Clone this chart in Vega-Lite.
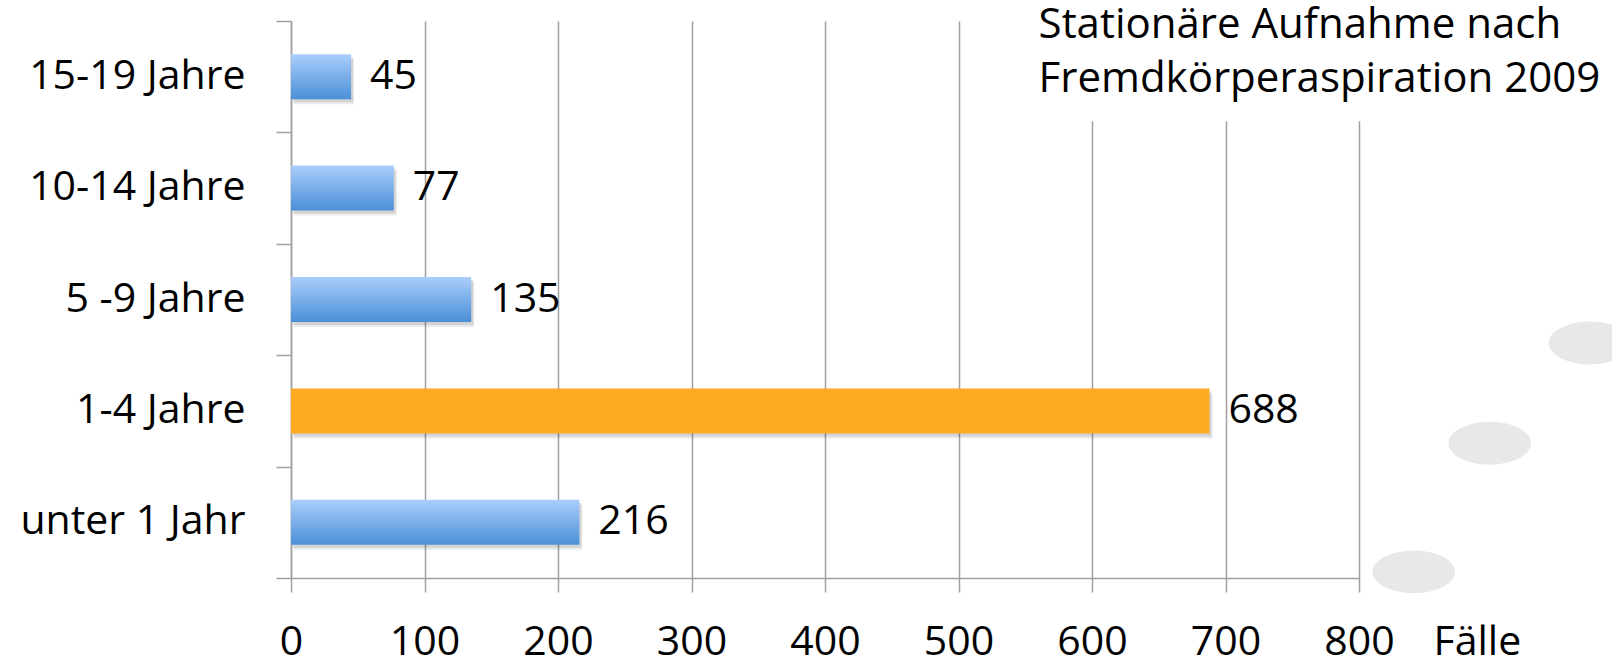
{
  "$schema": "https://vega.github.io/schema/vega-lite/v6.json",
  "width": 1068,
  "height": 557,
  "autosize": {"type": "none"},
  "padding": {"left": 291, "top": 21, "right": 253, "bottom": 83},
  "background": "#ffffff",
  "config": {
    "view": {"stroke": null},
    "font": "Open Sans",
    "text": {"font": "Open Sans"}
  },
  "datasets": {
    "balken": [
      {"Alter": "15-19 Jahre", "Faelle": 45, "Gruppe": "andere"},
      {"Alter": "10-14 Jahre", "Faelle": 77, "Gruppe": "andere"},
      {"Alter": "5 -9 Jahre", "Faelle": 135, "Gruppe": "andere"},
      {"Alter": "1-4 Jahre", "Faelle": 688, "Gruppe": "hervorgehoben"},
      {"Alter": "unter 1 Jahr", "Faelle": 216, "Gruppe": "andere"}
    ],
    "maske": [{"x0": 540, "x1": 820, "v0": 0.82, "v1": 1.01}],
    "titel": [{"x": 560, "v": 0.9695, "t": "Stationäre Aufnahme nach\nFremdkörperaspiration 2009"}],
    "punkte": [{"x": 973, "v": 0.422}, {"x": 898, "v": 0.242}, {"x": 841, "v": 0.011}]
  },
  "resolve": {"scale": {"y": "independent"}, "axis": {"y": "independent"}},
  "layer": [
    {
      "data": {"name": "balken"},
      "encoding": {
        "y": {
          "field": "Alter", "type": "nominal", "sort": null,
          "scale": {"paddingInner": 0, "paddingOuter": 0},
          "axis": {
            "title": null, "ticks": false, "tickSize": 0, "grid": false,
            "domainColor": "#a0a0a0", "domainWidth": 1.5,
            "labelFont": "Open Sans", "labelFontSize": 41, "labelColor": "#000000",
            "labelPadding": 46, "labelAlign": "right", "labelBaseline": "middle", "labelLimit": 0
          }
        },
        "x": {
          "field": "Faelle", "type": "quantitative",
          "scale": {"domain": [0, 800], "nice": false, "zero": true},
          "axis": {
            "values": [0, 100, 200, 300, 400, 500, 600, 700, 800],
            "grid": true, "gridColor": "#a0a0a0", "gridWidth": 1.5,
            "domainColor": "#a0a0a0", "domainWidth": 1.5,
            "tickColor": "#a0a0a0", "tickWidth": 1.5, "tickSize": 14,
            "labelFont": "Open Sans", "labelFontSize": 41, "labelColor": "#000000",
            "labelBaseline": "alphabetic", "labelPadding": 62, "labelFlush": false,
            "title": "Fälle", "titleFont": "Open Sans", "titleFontSize": 41,
            "titleFontWeight": "normal", "titleColor": "#000000",
            "titleX": 1142, "titleY": 76, "titleAlign": "left", "titleBaseline": "alphabetic"
          }
        }
      },
      "layer": [
        {"mark": {"type": "bar", "height": {"band": 0.404}, "fill": "#000000", "opacity": 0.08, "yOffset": 5, "xOffset": 3}},
        {"mark": {"type": "bar", "height": {"band": 0.404}, "fill": "#000000", "opacity": 0.1, "yOffset": 3, "xOffset": 2}},
        {
          "transform": [{"filter": "datum.Gruppe === 'andere'"}],
          "mark": {
            "type": "bar", "height": {"band": 0.404},
            "color": {
              "gradient": "linear", "x1": 0, "y1": 0, "x2": 0, "y2": 1,
              "stops": [{"offset": 0, "color": "#aacefb"}, {"offset": 1, "color": "#4a8fd7"}]
            }
          }
        },
        {
          "transform": [{"filter": "datum.Gruppe === 'hervorgehoben'"}],
          "mark": {"type": "bar", "height": {"band": 0.404}, "color": "#fbaa21"}
        },
        {
          "mark": {"type": "text", "align": "left", "baseline": "middle", "dx": 19, "fontSize": 41, "font": "Open Sans", "color": "#000000"},
          "encoding": {"text": {"field": "Faelle", "type": "quantitative"}}
        }
      ]
    },
    {
      "layer": [
        {
          "data": {"name": "maske"},
          "mark": {"type": "rect", "fill": "#ffffff"},
          "encoding": {
            "x": {"field": "x0", "type": "quantitative", "scale": {"domain": [0, 800], "nice": false}},
            "x2": {"field": "x1"},
            "y": {
              "field": "v0", "type": "quantitative",
              "scale": {"domain": [0, 1], "nice": false, "zero": false},
              "axis": {
                "orient": "left", "values": [0, 0.2, 0.4, 0.6, 0.8, 1],
                "labels": false, "domain": false, "grid": false, "title": null,
                "ticks": true, "tickSize": 15, "tickColor": "#a0a0a0", "tickWidth": 1.5
              }
            },
            "y2": {"field": "v1"}
          }
        },
        {
          "data": {"name": "titel"},
          "mark": {"type": "text", "align": "left", "baseline": "alphabetic", "lineBreak": "\n", "lineHeight": 54, "fontSize": 42, "font": "Open Sans", "color": "#000000"},
          "encoding": {
            "x": {"field": "x", "type": "quantitative"},
            "y": {"field": "v", "type": "quantitative"},
            "text": {"field": "t", "type": "nominal"}
          }
        },
        {
          "data": {"name": "punkte"},
          "mark": {"type": "point", "filled": true, "color": "#e8e8e8", "opacity": 1, "size": 6800, "shape": "M-1,0A1,0.52,0,1,1,1,0A1,0.52,0,1,1,-1,0Z"},
          "encoding": {
            "x": {"field": "x", "type": "quantitative"},
            "y": {"field": "v", "type": "quantitative"}
          }
        }
      ]
    }
  ]
}
